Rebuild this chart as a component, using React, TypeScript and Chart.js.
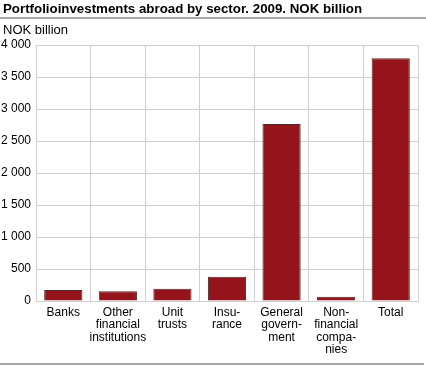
import React, { useEffect, useRef } from "react";
import { Chart, registerables } from "chart.js";

Chart.register(...registerables);

const TITLE = "Portfolioinvestments abroad by sector. 2009. NOK billion";
const UNIT = "NOK billion";
const categories: string[][] = [
  ["Banks"],
  ["Other", "financial", "institutions"],
  ["Unit", "trusts"],
  ["Insu-", "rance"],
  ["General", "govern-", "ment"],
  ["Non-", "financial", "compa-", "nies"],
  ["Total"],
];
const values: number[] = [172, 151, 192, 380, 2766, 67, 3792];
const yTicks: number[] = [0, 500, 1000, 1500, 2000, 2500, 3000, 3500, 4000];

const FONT = "\"Liberation Sans\", Arimo, Arial, Helvetica, sans-serif";

const fmt = (v: number) => String(v).replace(/\B(?=(\d{3})+(?!\d))/g, " ");

const decor = {
  id: "decor",
  afterDraw(chart: any) {
    const ctx = chart.ctx;
    const w = chart.width;
    ctx.save();
    ctx.fillStyle = "#000";
    ctx.textBaseline = "middle";
    ctx.textAlign = "left";
    ctx.font = `bold 13.3px ${FONT}`;
    ctx.fillText(TITLE, 3, 9);
    ctx.fillStyle = "#a6a6a6";
    ctx.fillRect(0, 17, w, 2);
    ctx.fillStyle = "#000";
    ctx.font = `13px ${FONT}`;
    ctx.fillText(UNIT, 3, 30);
    ctx.fillStyle = "#a6a6a6";
    ctx.fillRect(0, 363, w - 2, 2);
    ctx.restore();
  },
};

export default function App() {
  const ref = useRef<HTMLCanvasElement>(null);
  useEffect(() => {
    if (!ref.current) return;
    const chart = new Chart(ref.current, {
      type: "bar",
      data: {
        labels: categories,
        datasets: [
          {
            data: values,
            backgroundColor: "#95141c",
            borderColor: "#4a2a2a",
            borderWidth: 1,
            categoryPercentage: 0.7,
            barPercentage: 1,
          },
        ],
      },
      options: {
        animation: false,
        responsive: false,
        maintainAspectRatio: false,
        layout: { padding: { top: 45, right: 8, bottom: 0, left: 0 } },
        plugins: {
          legend: { display: false },
          title: { display: false },
          tooltip: { enabled: false },
        },
        scales: {
          x: {
            grid: { color: "#d0d0d0", drawTicks: false, offset: true },
            border: { display: true, color: "#d0d0d0" },
            ticks: {
              color: "#000",
              font: { family: FONT, size: 12, lineHeight: 1.05 },
              padding: 5,
              maxRotation: 0,
              autoSkip: false,
            },
            afterFit: (s: any) => {
              s.height = 65;
            },
          },
          y: {
            min: 0,
            max: 4000,
            grid: { color: "#d0d0d0", drawTicks: false },
            border: { display: true, color: "#d0d0d0" },
            afterBuildTicks: (s: any) => {
              s.ticks = yTicks.map((v) => ({ value: v }));
            },
            ticks: {
              color: "#000",
              font: { family: FONT, size: 12 },
              padding: 5,
              callback: (v: any) => fmt(Number(v)),
            },
            afterFit: (s: any) => {
              s.width = 36;
            },
          },
        },
      },
      plugins: [decor],
    });
    return () => {
      chart.destroy();
    };
  }, []);
  return (
    <div style={{ position: "fixed", left: 0, top: 0, width: 426, height: 366, background: "#fff" }}>
      <canvas ref={ref} width={426} height={366} style={{ width: 426, height: 366 }} />
    </div>
  );
}
